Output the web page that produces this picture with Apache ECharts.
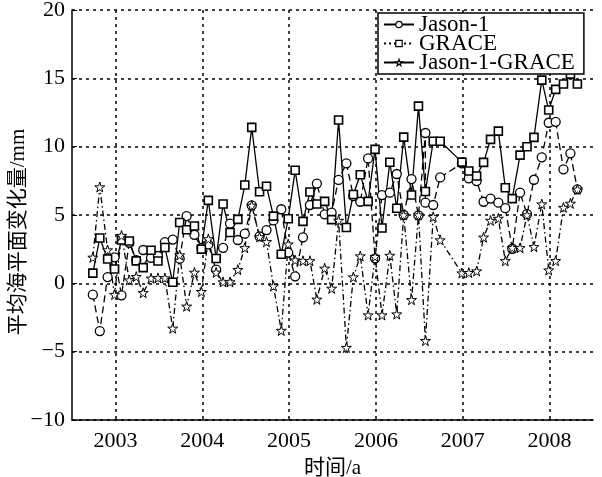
<!DOCTYPE html>
<html><head><meta charset="utf-8">
<script src="https://cdn.jsdelivr.net/npm/echarts@6/dist/echarts.min.js"></script>
<style>html,body{margin:0;padding:0;background:#fff}#c{width:602px;height:477px}</style>
</head><body><div id="c"></div>
<script>
// decimal-year dates (monthly, with two missing months in late 2006)
const dates = [2002.74,2002.82,2002.91,2002.99,2003.07,2003.16,2003.24,2003.32,2003.41,2003.49,
  2003.57,2003.66,2003.74,2003.82,2003.91,2003.99,2004.07,2004.16,2004.24,2004.32,
  2004.41,2004.49,2004.57,2004.66,2004.74,2004.82,2004.91,2004.99,2005.07,2005.16,
  2005.24,2005.32,2005.41,2005.49,2005.57,2005.66,2005.74,2005.82,2005.91,2005.99,
  2006.07,2006.16,2006.24,2006.32,2006.41,2006.49,2006.57,2006.66,2006.74,
  2006.99,2007.07,2007.16,2007.24,2007.32,2007.41,2007.49,2007.57,2007.66,2007.74,
  2007.82,2007.91,2007.99,2008.07,2008.16,2008.24,2008.32];
const jasonDates = [2002.74,2002.82,2002.91,2002.99,2003.07,2003.16,2003.24,2003.32,2003.41,2003.49,
  2003.57,2003.66,2003.74,2003.82,2003.91,2003.99,2004.07,2004.16,2004.24,2004.32,
  2004.41,2004.49,2004.57,2004.66,2004.74,2004.82,2004.91,2004.99,2005.07,2005.16,
  2005.24,2005.32,2005.41,2005.49,2005.57,2005.66,2005.74,2005.82,2005.91,2005.99,
  2006.07,2006.16,2006.24,2006.32,2006.41,2006.49,2006.57,2006.57,2006.66,2006.74,
  2006.99,2007.07,2007.16,2007.24,2007.32,2007.41,2007.49,2007.57,2007.66,2007.74,
  2007.82,2007.91,2007.99,2008.07,2008.16,2008.24,2008.32];
const jason = [-0.83,-3.49,0.46,1.9,-0.88,2.97,1.7,2.44,1.87,2.0,
  3.02,3.2,1.8,4.92,3.55,2.6,2.85,1.0,2.6,4.37,
  3.17,3.63,5.7,3.43,3.9,4.6,5.42,2.25,0.51,3.37,
  5.73,7.3,5.05,5.18,7.57,8.78,6.39,5.97,9.14,1.83,
  6.46,6.63,8.0,5.0,7.63,4.97,11.0,5.9,5.73,7.75,
  8.78,7.68,7.48,5.97,6.2,5.9,5.5,2.53,6.63,5.06,
  7.58,9.22,11.75,11.82,8.34,9.51,6.88];
const grace = [0.75,3.32,1.78,1.05,3.17,3.1,1.64,1.15,2.42,1.63,
  2.62,0.08,4.45,3.92,4.2,2.5,6.07,1.82,5.8,3.72,
  4.68,7.19,11.41,6.7,7.1,4.92,2.13,4.73,8.27,4.53,
  6.68,5.8,6.0,4.66,11.95,4.08,6.5,7.95,6.0,9.8,
  4.05,8.86,5.49,10.7,6.46,12.97,6.72,10.4,10.4,
  8.87,8.22,7.85,8.85,10.53,11.14,6.99,6.2,9.38,9.99,
  10.68,14.87,12.68,14.19,14.58,15.31,14.58];
const diff = [1.9,7.05,2.44,-0.82,3.5,0.24,0.49,-0.69,0.37,0.4,
  0.39,-3.29,2.07,-1.68,0.8,-0.61,3.25,0.8,0.1,0.1,
  1.0,2.6,5.7,3.4,3.04,-0.2,-3.45,2.87,1.7,1.65,
  1.65,-1.17,1.1,-0.37,4.6,-4.7,0.46,2.0,-2.32,1.95,
  -2.32,2.04,-2.25,5.0,-1.2,5.0,-4.2,4.87,3.17,
  0.75,0.78,0.9,3.37,4.6,4.75,1.65,2.6,2.6,5.0,
  2.68,5.8,0.97,1.65,5.55,5.85,6.88];
const seriesNames = ['Jason-1','GRACE','Jason-1-GRACE'];
const xLabel = '时间/a';
const yLabel = '平均海平面变化量/mm';

const serif = 'Liberation Serif, Times New Roman, Noto Sans CJK SC, serif';
const starPath = 'path://M50,0 L61,35 L98,35 L68,57 L79,91 L50,70 L21,91 L32,57 L2,35 L39,35 Z';
const pair = (xs, ys) => xs.map((x, i) => [x, ys[i]]);
const hollow = {color: '#fff', borderColor: '#000', borderWidth: 1.2};

const chart = echarts.init(document.getElementById('c'), null, {renderer: 'canvas'});
chart.setOption({
  animation: false,
  backgroundColor: '#fff',
  grid: {left: 72, right: 9, top: 10, bottom: 57, containLabel: false, outerBoundsMode: 'none'},
  legend: {
    orient: 'vertical', left: 378, top: 13,
    backgroundColor: '#fff', borderColor: '#000', borderWidth: 1.5,
    padding: [0, 9, 0, 5], itemGap: -4, itemWidth: 30, itemHeight: 8,
    textStyle: {fontFamily: serif, fontSize: 23, color: '#000'},
    data: [
      {name: seriesNames[0], lineStyle: {type: 'solid'}, itemStyle: hollow},
      {name: seriesNames[1], lineStyle: {type: [2, 3]}, itemStyle: hollow},
      {name: seriesNames[2], lineStyle: {type: 'solid'}, itemStyle: hollow}
    ]
  },
  xAxis: {
    type: 'value', min: 2002.5, max: 2008.5, interval: 0.5,
    name: xLabel, nameLocation: 'middle', nameGap: 38, nameMoveOverlap: false,
    nameTextStyle: {fontFamily: serif, fontSize: 21, color: '#000'},
    axisLine: {show: true, onZero: false, lineStyle: {color: '#000', width: 1.5}},
    axisTick: {show: false},
    axisLabel: {fontFamily: serif, fontSize: 22, color: '#000', margin: 10,
      formatter: v => (Math.abs(v - Math.round(v)) < 1e-6 ? String(Math.round(v)) : '')},
    splitLine: {show: true, lineStyle: {color: ['rgba(0,0,0,0)', '#000'], type: [3, 4], width: 1.5}}
  },
  yAxis: {
    type: 'value', min: -10, max: 20, interval: 5,
    name: yLabel, nameLocation: 'middle', nameGap: 43, nameMoveOverlap: false,
    nameTextStyle: {fontFamily: serif, fontSize: 21, color: '#000', padding: [0, 34, 0, 0]},
    axisLine: {show: true, onZero: false, lineStyle: {color: '#000', width: 1.5}},
    axisTick: {show: true, inside: true, length: 5, lineStyle: {color: '#000', width: 1}},
    axisLabel: {fontFamily: serif, fontSize: 22, color: '#000', margin: 7,
      formatter: v => String(v).replace('-', '\u2212')},
    splitLine: {show: true, lineStyle: {color: '#000', type: [3, 4], width: 1.5}}
  },
  series: [
    {name: seriesNames[0], type: 'line', data: pair(jasonDates, jason),
      symbol: 'circle', symbolSize: 9, showAllSymbol: true,
      lineStyle: {color: '#000', width: 1.3, type: [7, 4]},
      itemStyle: {color: '#fff', borderColor: '#000', borderWidth: 1.3}},
    {name: seriesNames[1], type: 'line', data: pair(dates, grace),
      symbol: 'rect', symbolSize: 8, showAllSymbol: true,
      lineStyle: {color: '#000', width: 1.3, type: 'solid'},
      itemStyle: {color: '#fff', borderColor: '#000', borderWidth: 1.6}},
    {name: seriesNames[2], type: 'line', data: pair(dates, diff),
      symbol: starPath, symbolSize: 10, showAllSymbol: true,
      lineStyle: {color: '#000', width: 1.3, type: [6, 3, 1.5, 3]},
      itemStyle: {color: '#fff', borderColor: '#000', borderWidth: 1}}
  ]
});
</script></body></html>
